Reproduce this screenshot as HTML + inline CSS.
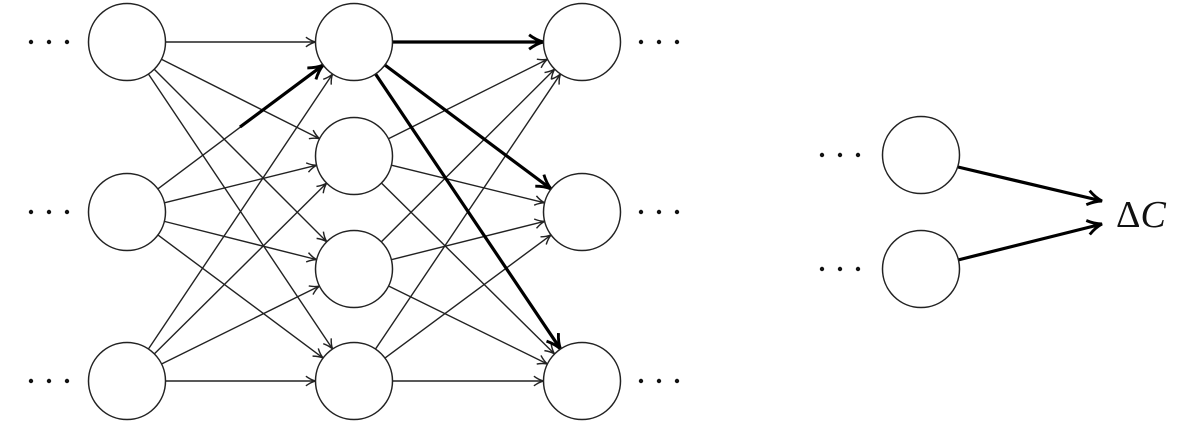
<!DOCTYPE html>
<html><head><style>html,body{margin:0;padding:0;background:#fff;width:1190px;height:426px;overflow:hidden}</style></head>
<body>
<svg width="1190" height="426" viewBox="0 0 1190 426" xmlns="http://www.w3.org/2000/svg">
<defs>
<marker id="a" viewBox="0 0 10 10" refX="9" refY="5" markerWidth="12" markerHeight="12" markerUnits="userSpaceOnUse" orient="auto"><path d="M1,1 Q5,4 9,5 Q5,6 1,9" fill="none" stroke="#222" stroke-width="1.2"/></marker>
<marker id="b" viewBox="0 0 10 10" refX="9" refY="5" markerWidth="18" markerHeight="18" markerUnits="userSpaceOnUse" orient="auto"><path d="M1,1 Q5,4 9,5 Q5,6 1,9" fill="none" stroke="#000" stroke-width="1.6"/></marker>
</defs>
<g id="edges" stroke="#222" stroke-width="1.4" fill="none"></g>
<g id="thick" stroke="#000" stroke-width="3.2" fill="none"></g>
<g id="nodes" fill="#fff" stroke="#222" stroke-width="1.5"></g>
<g fill="#111" id="dots"></g>
<text x="1116" y="227" font-family="Liberation Serif, serif" font-size="38" fill="#111">Δ<tspan font-style="italic">C</tspan></text>
</svg>
<script>
const ns="http://www.w3.org/2000/svg",R=38.5;
const L=[[127,42],[127,212],[127,381]],M=[[354,42],[354,156],[354,269],[354,381]],Rt=[[582,42],[582,212],[582,381]],S=[[921,155],[921,269]];
function el(g,t,a){const e=document.createElementNS(ns,t);for(const k in a)e.setAttribute(k,a[k]);document.getElementById(g).appendChild(e);return e}
function edge(g,p,q,m,start){const dx=q[0]-p[0],dy=q[1]-p[1],d=Math.hypot(dx,dy),ux=dx/d,uy=dy/d;const s=start||[p[0]+ux*R,p[1]+uy*R];el(g,'line',{x1:s[0],y1:s[1],x2:q[0]-ux*R,y2:q[1]-uy*R,'marker-end':'url(#'+m+')'})}
L.forEach(p=>M.forEach(q=>edge('edges',p,q,'a')));
M.forEach(p=>Rt.forEach(q=>edge('edges',p,q,'a')));
edge('thick',L[1],M[0],'b',[240,127]);
Rt.forEach(q=>edge('thick',M[0],q,'b'));
el('thick','line',{x1:S[0][0]+37,y1:S[0][1]+12,x2:1102,y2:201,'marker-end':'url(#b)'});
el('thick','line',{x1:S[1][0]+37,y1:S[1][1]-9,x2:1102,y2:224,'marker-end':'url(#b)'});
[...L,...M,...Rt,...S].forEach(p=>el('nodes','circle',{cx:p[0],cy:p[1],r:R}));
function dots(x,y){[0,18,36].forEach(o=>el('dots','circle',{cx:x+o,cy:y,r:2.2}))}
L.forEach(p=>dots(31,p[1]));Rt.forEach(p=>dots(641,p[1]));S.forEach(p=>dots(822,p[1]));
</script>
</body></html>
